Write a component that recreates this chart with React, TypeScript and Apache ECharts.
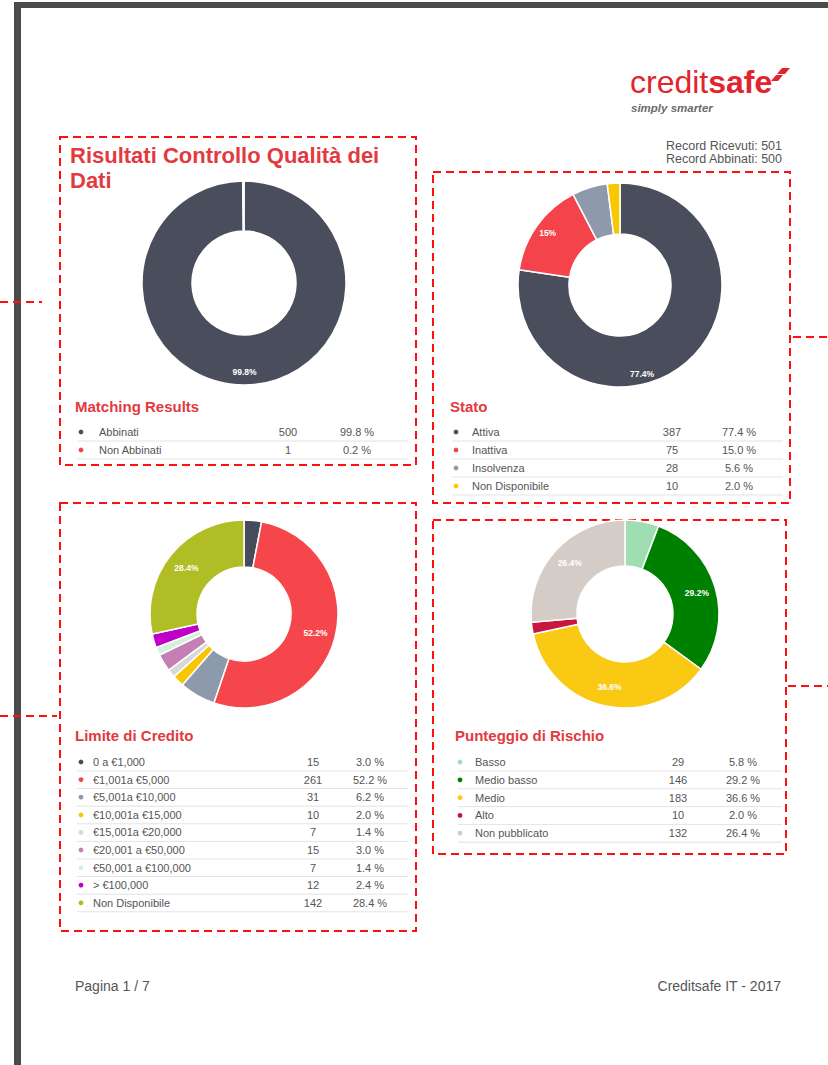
import React, { useEffect, useRef } from "react";
import * as echarts from "echarts";

// ---------- DATA ----------
const recordRicevuti = 501;
const recordAbbinati = 500;

const matchingNames = ["Abbinati", "Non Abbinati"];
const matchingCounts = [500, 1];
const matchingColors = ["#4a4e5c", "#f0434f"];

const statoNames = ["Attiva", "Inattiva", "Insolvenza", "Non Disponibile"];
const statoCounts = [387, 75, 28, 10];
const statoColors = ["#4a4e5c", "#f5434b", "#8e9aac", "#f7c800"];

const limiteNames = [
  "0 a €1,000",
  "€1,001a €5,000",
  "€5,001a €10,000",
  "€10,001a €15,000",
  "€15,001a €20,000",
  "€20,001 a €50,000",
  "€50,001 a €100,000",
  "> €100,000",
  "Non Disponibile",
];
const limiteCounts = [15, 261, 31, 10, 7, 15, 7, 12, 142];
const limiteColors = [
  "#474c5a",
  "#f5474b",
  "#8d9aac",
  "#f7c600",
  "#d8d8d8",
  "#c47fb5",
  "#d2f0dc",
  "#c000c8",
  "#b0bd24",
];

const rischioNames = ["Basso", "Medio basso", "Medio", "Alto", "Non pubblicato"];
const rischioCounts = [29, 146, 183, 10, 132];
const rischioColors = ["#9fdeb0", "#008000", "#f9c914", "#c8173c", "#d3ccc7"];

// ---------- HELPERS ----------
const RED = "#e23a40";
const FONT = "Liberation Sans, Arial, sans-serif";

const sum = (a: number[]) => a.reduce((s, v) => s + v, 0);
const pct1 = (v: number, t: number) => ((v / t) * 100).toFixed(1);

function makePie(
  names: string[],
  counts: number[],
  colors: string[],
  center: [number, number],
  r0: number,
  r1: number,
  labelR: number,
  labelOffsets: Record<number, [number, number]> = {}
) {
  const total = sum(counts);
  const data = names.map((n, i) => ({
    name: n,
    value: counts[i],
    itemStyle: { color: colors[i] },
  }));
  const main = {
    type: "pie",
    center,
    radius: [r0, r1],
    startAngle: 90,
    clockwise: true,
    silent: true,
    label: { show: false },
    labelLine: { show: false },
    itemStyle: { borderColor: "#ffffff", borderWidth: 1.5 },
    data,
  };
  const labels = {
    type: "pie",
    center,
    radius: [labelR - 4, labelR + 4],
    startAngle: 90,
    clockwise: true,
    silent: true,
    z: 5,
    itemStyle: { color: "rgba(0,0,0,0)", borderWidth: 0 },
    labelLine: { show: false },
    data: names.map((n, i) => ({
      name: n,
      value: counts[i],
      itemStyle: { color: "rgba(0,0,0,0)" },
      label: {
        show: counts[i] / total >= 0.1,
        position: "inside",
        color: "#ffffff",
        fontSize: 8.5,
        fontWeight: "bold",
        fontFamily: FONT,
        offset: labelOffsets[i] || [0, 0],
        formatter: () => String(Number(((counts[i] / total) * 100).toFixed(1))) + "%",
      },
    })),
  };
  return [main, labels];
}

function makeTable(
  names: string[],
  counts: number[],
  colors: string[],
  title: string,
  titleX: number,
  titleY: number,
  dotX: number,
  nameX: number,
  countX: number,
  pctX: number,
  lineX0: number,
  lineX1: number,
  rowY0: number,
  pitch: number
) {
  const total = sum(counts);
  const els: any[] = [
    {
      type: "text",
      x: titleX,
      y: titleY,
      style: {
        text: title,
        fill: RED,
        font: `bold 15px ${FONT}`,
        textVerticalAlign: "middle",
      },
    },
  ];
  names.forEach((n, i) => {
    const y = rowY0 + i * pitch;
    els.push({
      type: "circle",
      shape: { cx: dotX, cy: y, r: 2.4 },
      style: { fill: colors[i] },
    });
    els.push({
      type: "text",
      x: nameX,
      y,
      style: { text: n, fill: "#555", font: `11px ${FONT}`, textVerticalAlign: "middle" },
    });
    els.push({
      type: "text",
      x: countX,
      y,
      style: {
        text: String(counts[i]),
        fill: "#555",
        font: `11px ${FONT}`,
        textAlign: "center",
        textVerticalAlign: "middle",
      },
    });
    els.push({
      type: "text",
      x: pctX,
      y,
      style: {
        text: pct1(counts[i], total) + " %",
        fill: "#555",
        font: `11px ${FONT}`,
        textAlign: "center",
        textVerticalAlign: "middle",
      },
    });
    els.push({
      type: "line",
      shape: { x1: lineX0, y1: y + 9, x2: lineX1, y2: y + 9 },
      style: { stroke: "#e3e3e3", lineWidth: 1 },
    });
  });
  return els;
}

const dashStyle = { fill: "none", stroke: "#ff1010", lineWidth: 2, lineDash: [8, 5] };
const dashRect = (x: number, y: number, w: number, h: number) => ({
  type: "rect",
  shape: { x, y, width: w, height: h },
  style: dashStyle,
});
const dashLine = (x1: number, y: number, x2: number) => ({
  type: "line",
  shape: { x1, y1: y, x2, y2: y },
  style: { stroke: "#ff1010", lineWidth: 2, lineDash: [8, 5] },
});

export default function App() {
  const ref = useRef<HTMLDivElement>(null);
  useEffect(() => {
    if (!ref.current) return;
    const chart = echarts.init(ref.current, undefined, { renderer: "svg" });

    const graphics: any[] = [
      // page frame
      { type: "rect", shape: { x: 14, y: 2, width: 814, height: 6 }, style: { fill: "#4a4a4a" } },
      { type: "rect", shape: { x: 14, y: 2, width: 7, height: 1063 }, style: { fill: "#4a4a4a" } },
      // logo
      {
        type: "text",
        x: 630,
        y: 98,
        style: {
          text: "{a|credit}{b|safe}",
          textVerticalAlign: "bottom",
          rich: {
            a: { fill: "#e2242f", font: `32px ${FONT}` },
            b: { fill: "#e2242f", font: `bold 32px ${FONT}` },
          },
        },
      },
      {
        type: "polygon",
        shape: { points: [[777, 74], [782, 68], [790, 68], [785, 74]] },
        style: { fill: "#e2242f" },
      },
      {
        type: "polygon",
        shape: { points: [[771, 81], [776, 75], [783, 75], [778, 81]] },
        style: { fill: "#e2242f" },
      },
      {
        type: "text",
        x: 631,
        y: 108,
        style: {
          text: "simply smarter",
          fill: "#6a6a6a",
          font: `italic bold 11.5px ${FONT}`,
          textVerticalAlign: "middle",
        },
      },
      {
        type: "text",
        x: 782,
        y: 146,
        style: {
          text: `Record Ricevuti: ${recordRicevuti}`,
          fill: "#555",
          font: `12.5px ${FONT}`,
          textAlign: "right",
          textVerticalAlign: "middle",
        },
      },
      {
        type: "text",
        x: 782,
        y: 159,
        style: {
          text: `Record Abbinati: ${recordAbbinati}`,
          fill: "#555",
          font: `12.5px ${FONT}`,
          textAlign: "right",
          textVerticalAlign: "middle",
        },
      },
      // main title
      {
        type: "text",
        x: 70,
        y: 155,
        style: {
          text: "Risultati Controllo Qualità dei",
          fill: RED,
          font: `bold 22px ${FONT}`,
          textVerticalAlign: "middle",
        },
      },
      {
        type: "text",
        x: 70,
        y: 180,
        style: { text: "Dati", fill: RED, font: `bold 22px ${FONT}`, textVerticalAlign: "middle" },
      },
      // dashed panels
      dashRect(60, 137, 356, 328),
      dashRect(433, 172, 357, 331),
      dashRect(60, 503, 356, 428),
      dashRect(433, 520, 353, 334),
      dashLine(0, 302, 42),
      dashLine(0, 716, 57),
      dashLine(793, 337, 828),
      dashLine(788, 686, 828),
      // tables
      ...makeTable(matchingNames, matchingCounts, matchingColors, "Matching Results", 75, 406, 81, 99, 288, 357, 77, 408, 432, 18),
      ...makeTable(statoNames, statoCounts, statoColors, "Stato", 450, 406, 456, 472, 672, 739, 452, 783, 432, 18),
      ...makeTable(limiteNames, limiteCounts, limiteColors, "Limite di Credito", 75, 735, 81, 93, 313, 370, 77, 408, 762, 17.6),
      ...makeTable(rischioNames, rischioCounts, rischioColors, "Punteggio di Rischio", 455, 735, 460, 475, 678, 743, 458, 782, 762, 17.8),
      // footer
      {
        type: "text",
        x: 75,
        y: 986,
        style: { text: "Pagina 1 / 7", fill: "#555", font: `14px ${FONT}`, textVerticalAlign: "middle" },
      },
      {
        type: "text",
        x: 781,
        y: 986,
        style: {
          text: "Creditsafe IT - 2017",
          fill: "#555",
          font: `14px ${FONT}`,
          textAlign: "right",
          textVerticalAlign: "middle",
        },
      },
    ];

    chart.setOption({
      animation: false,
      backgroundColor: "#ffffff",
      series: [
        ...makePie(matchingNames, matchingCounts, matchingColors, [244, 283], 52, 102, 86),
        ...makePie(statoNames, statoCounts, statoColors, [620, 285], 51, 102, 86, { 0: [-36, 22] }),
        ...makePie(limiteNames, limiteCounts, limiteColors, [244, 614], 47, 94, 71),
        ...makePie(rischioNames, rischioCounts, rischioColors, [625, 614], 48, 94, 72),
      ],
      graphic: graphics,
    });
    return () => chart.dispose();
  }, []);

  return (
    <div
      ref={ref}
      style={{ position: "absolute", left: 0, top: 0, width: 828, height: 1065 }}
    />
  );
}
